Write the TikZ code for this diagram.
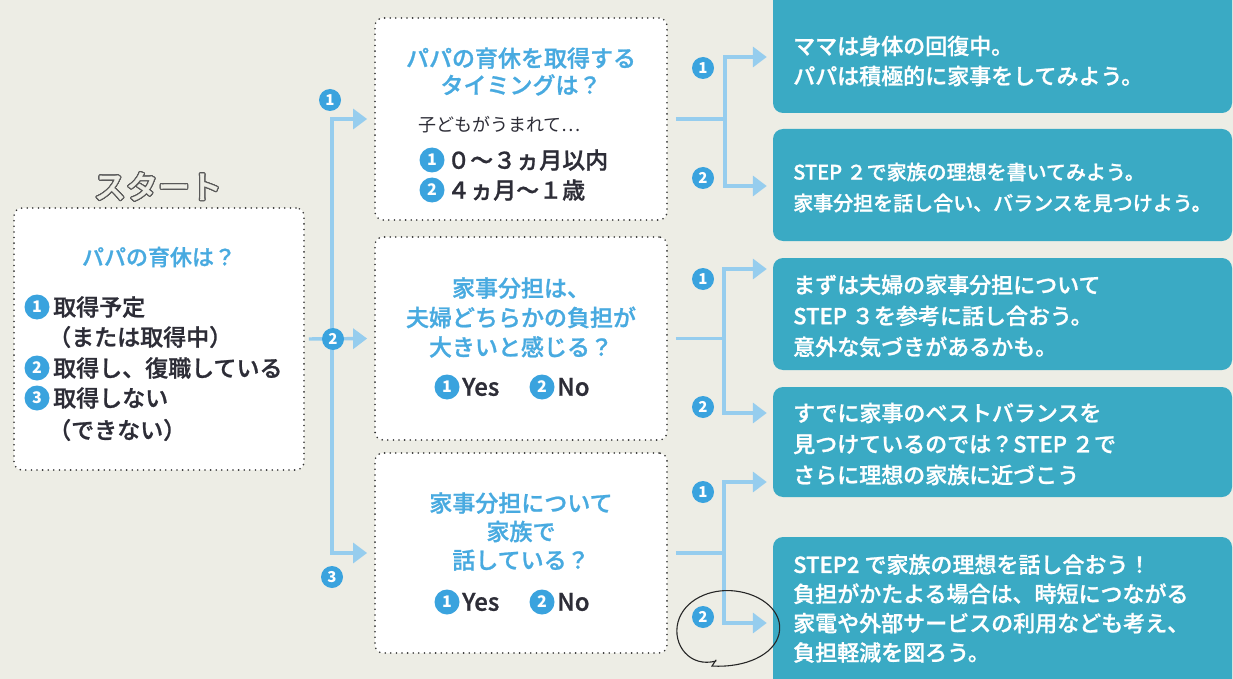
\documentclass[tikz,border=0pt]{standalone}
\usepackage{fontspec}
\setmainfont{Noto Sans CJK JP}
\IfFontExistsTF{Noto Sans CJK JP Medium}
  {\newfontfamily\medfont{Noto Sans CJK JP Medium}[FakeBold=1]}
  {\newfontfamily\medfont{Noto Sans CJK JP}[FakeBold=2]}
\usepackage[copies]{contour}
\usetikzlibrary{arrows.meta}
\definecolor{bgc}{RGB}{237,237,229}
\definecolor{lineblue}{RGB}{150,205,238}
\definecolor{numblue}{RGB}{58,163,222}
\definecolor{headblue}{RGB}{72,170,224}
\definecolor{tealbox}{RGB}{58,170,196}
\definecolor{darktext}{RGB}{45,45,55}
\contourlength{1.2pt}
\tikzset{
  qbox/.style={draw=black!80, fill=white, line width=1.8pt, dash pattern=on 0pt off 5.6pt, line cap=round, rounded corners=8pt, inner sep=0pt},
  abox/.style={fill=tealbox, rounded corners=10pt, inner sep=0pt, minimum width=459pt},
  conn/.style={draw=lineblue, line width=3.4pt},
  arr/.style={conn, -{Triangle[length=14pt,width=20pt]}},
  num/.style={circle, fill=numblue, text=white, inner sep=0pt, minimum size=22pt, font=\fontsize{15}{15}\selectfont\bfseries},
  inum/.style={num, minimum size=25pt, font=\fontsize{16}{16}\selectfont\bfseries},
  head/.style={text=headblue, align=center, inner sep=0pt},
  body/.style={text=darktext, inner sep=0pt, anchor=west},
  ans/.style={text=white, inner sep=0pt, anchor=west, align=left},
}
\begin{document}
\begin{tikzpicture}[x=1pt,y=-1pt]
\fill[bgc] (0,0) rectangle (1233,679);
\useasboundingbox (0,0) rectangle (1233,679);
\begin{scope}
\clip (0,0) rectangle (1233,679);
% question boxes
\node[qbox, minimum width=290pt, minimum height=262pt] (start) at (159,339) {};
\node[qbox, minimum width=292pt, minimum height=202pt] (q1) at (521,119) {};
\node[qbox, minimum width=292pt, minimum height=203pt] (q2) at (521,338.5) {};
\node[qbox, minimum width=292pt, minimum height=200pt] (q3) at (521,553) {};
% answer boxes
\node[abox, minimum height=123pt] (r1) at (1002.5,51.5) {};
\node[abox, minimum height=112pt] (r2) at (1002.5,185) {};
\node[abox, minimum height=112pt] (r3) at (1002.5,314) {};
\node[abox, minimum height=110pt] (r4) at (1002.5,442) {};
\node[abox, minimum height=163pt] (r5) at (1002.5,618.5) {};
% left connectors
\coordinate (vtop) at (332,119);
\coordinate (vbot) at (332,553);
\draw[arr, shorten >=7pt] (vbot) -- (vtop) -- (q1.west);
\draw[arr, shorten >=7pt] (vtop) -- (vbot) -- (q3.west);
\draw[arr, shorten >=7pt, shorten <=4pt] (start.east) -- (q2.west);
% right connectors q1
\coordinate (j1) at (725,119);
\coordinate (j1a) at (725,57);
\coordinate (j1b) at (725,186);
\draw[conn] ([xshift=8pt]q1.east) -- (j1);
\draw[arr, shorten >=6pt] (j1b) -- (j1a) -- (j1a -| r1.west);
\draw[arr, shorten >=6pt] (j1a) -- (j1b) -- (j1b -| r2.west);
% right connectors q2
\coordinate (j2) at (724,338.5);
\coordinate (j2a) at (724,269);
\coordinate (j2b) at (724,413);
\draw[conn] ([xshift=8pt]q2.east) -- (j2);
\draw[arr, shorten >=6pt] (j2b) -- (j2a) -- (j2a -| r3.west);
\draw[arr, shorten >=6pt] (j2a) -- (j2b) -- (j2b -| r4.west);
% right connectors q3
\coordinate (j3) at (724,553);
\coordinate (j3a) at (724,482);
\coordinate (j3b) at (724,623);
\draw[conn] ([xshift=8pt]q3.east) -- (j3);
\draw[arr, shorten >=6pt] (j3b) -- (j3a) -- (j3a -| r4.west);
\draw[arr, shorten >=6pt] (j3a) -- (j3b) -- (j3b -| r5.west);
% connector numbers
\node[num] (nl1) at (330,100) {1};
\node[num] (nl2) at (333,339) {2};
\node[num] (nl3) at (332,577) {3};
\node[num] (na1) at (703,68) {1};
\node[num] (na2) at (703,178) {2};
\node[num] (nb1) at (703,279) {1};
\node[num] (nb2) at (703,407) {2};
\node[num] (nc1) at (703,492) {1};
\node[num] (nc2) at (703,617) {2};
% start
\node[inner sep=0pt] (title) at (158,187) {\fontsize{32}{32}\medfont\contour{black!65}{\textcolor{bgc}{スタート}}};
\node[head, font=\fontsize{22}{22}\medfont] (sh) at (159,257) {パパの育休は？};
\node[inum] (s1) at (37,307) {1};
\node[body, font=\fontsize{23}{23}\medfont] (s1t) at (53,307) {取得予定};
\node[body, font=\fontsize{23}{23}\medfont] (s1u) at (48,337) {（または取得中）};
\node[inum] (s2) at (37,368) {2};
\node[body, font=\fontsize{23}{23}\medfont] (s2t) at (53,368) {取得し、復職している};
\node[inum] (s3) at (37,398) {3};
\node[body, font=\fontsize{23}{23}\medfont] (s3t) at (53,398) {取得しない};
\node[body, font=\fontsize{23}{23}\medfont] (s3u) at (48,430) {（できない）};
% q1 text
\node[head, font=\fontsize{23}{27}\medfont] (q1h) at (521,71.5) {パパの育休を取得する\\タイミングは？};
\node[body, font=\fontsize{18}{18}\selectfont] (q1s) at (418,125) {子どもがうまれて…};
\node[inum] (q1n1) at (432,160) {1};
\node[body, font=\fontsize{23}{23}\medfont] (q1a) at (447,160) {０～３ヵ月以内};
\node[inum] (q1n2) at (432,190) {2};
\node[body, font=\fontsize{23}{23}\medfont] (q1b) at (447,190) {４ヵ月～１歳};
% q2 text
\node[head, font=\fontsize{23}{29.5}\medfont] (q2h) at (521,317.5) {家事分担は、\\夫婦どちらかの負担が\\大きいと感じる？};
\node[inum] (q2n1) at (447,387) {1};
\node[body, font=\fontsize{24}{24}\medfont] (q2y) at (462,387) {Yes};
\node[inum] (q2n2) at (542,387) {2};
\node[body, font=\fontsize{24}{24}\medfont] (q2no) at (557,387) {No};
% q3 text
\node[head, font=\fontsize{23}{28.5}\medfont] (q3h) at (521,531.5) {家事分担について\\家族で\\話している？};
\node[inum] (q3n1) at (447,602) {1};
\node[body, font=\fontsize{24}{24}\medfont] (q3y) at (462,602) {Yes};
\node[inum] (q3n2) at (542,602) {2};
\node[body, font=\fontsize{24}{24}\medfont] (q3no) at (557,602) {No};
% answers
\node[ans, font=\fontsize{22}{30}\medfont] (r1t) at (793,61) {ママは身体の回復中。\\パパは積極的に家事をしてみよう。};
\node[ans, font=\fontsize{20}{31}\medfont] (r2t) at (793,187.5) {STEP ２で家族の理想を書いてみよう。\\家事分担を話し合い、バランスを見つけよう。};
\node[ans, font=\fontsize{22}{31}\medfont] (r3t) at (793,316) {まずは夫婦の家事分担について\\STEP ３を参考に話し合おう。\\意外な気づきがあるかも。};
\node[ans, font=\fontsize{22}{31}\medfont] (r4t) at (793,444) {すでに家事のベストバランスを\\見つけているのでは？STEP ２で\\さらに理想の家族に近づこう};
\node[ans, font=\fontsize{22}{29.3}\medfont] (r5t) at (793,608.5) {STEP2 で家族の理想を話し合おう！\\負担がかたよる場合は、時短につながる\\家電や外部サービスの利用なども考え、\\負担軽減を図ろう。};
% pen mark
\draw[black!85, line width=1.1pt, line cap=round] (716,661) .. controls (690,668) and (672,645) .. (678,622) .. controls (684,600) and (710,588) .. (735,591) .. controls (762,594) and (784,612) .. (779,634) .. controls (774,655) and (745,668) .. (712,666) -- (716,660);
\end{scope}
\end{tikzpicture}
\end{document}
